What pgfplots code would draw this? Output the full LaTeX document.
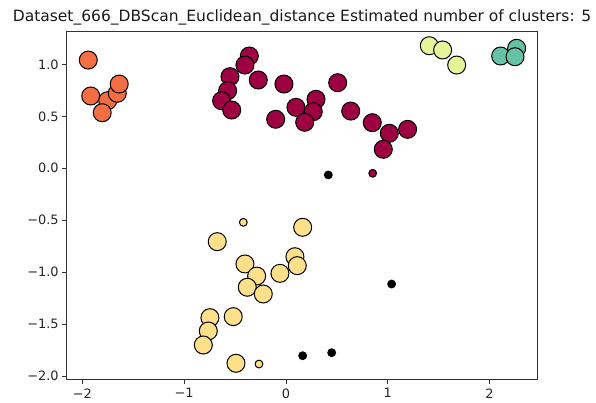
\documentclass[border=0pt]{standalone}
\usepackage{pgfplots}
\pgfplotsset{compat=1.18}
\usepackage{fontspec}
\setmainfont{DejaVu Sans}
\definecolor{c0}{HTML}{9E0142}
\definecolor{c1}{HTML}{F46D43}
\definecolor{c2}{HTML}{FEE08B}
\definecolor{c3}{HTML}{E6F598}
\definecolor{c4}{HTML}{66C2A5}
\begin{document}
\begin{tikzpicture}
\begin{axis}[
  scale only axis,
  width=470.6bp, height=347.8bp,
  xmin=-2.154, xmax=2.469, ymin=-2.033, ymax=1.315,
  axis line style={black!80, line width=0.8bp},
  xtick={-2,-1,0,1,2},
  xticklabels={−2,−1,0,1,2},
  ytick={-2,-1.5,-1,-0.5,0,0.5,1},
  yticklabels={−2.0,−1.5,−1.0,−0.5,0.0,0.5,1.0},
  tick align=outside,
  xtick pos=bottom, ytick pos=left,
  major tick length=4.5bp,
  tick style={black!80, line width=0.8bp},
  tick label style={font=\fontsize{12.9bp}{15bp}\selectfont, text=black!85},
  xticklabel style={yshift=-1bp},
  clip=false,
  every axis plot/.append style={only marks, line width=1bp},
]
% cluster 0 core
\addplot[mark=*, mark size=9bp, mark options={fill=c0, draw=black}] coordinates {
(-0.360,1.081) (-0.403,0.994) (-0.272,0.850) (-0.550,0.882) (-0.573,0.747)
(-0.632,0.651) (-0.533,0.561) (-0.020,0.811) (0.508,0.824) (-0.101,0.472)
(0.098,0.587) (0.295,0.664) (0.268,0.545) (0.184,0.443) (0.636,0.551)
(0.848,0.439) (1.015,0.337) (1.195,0.375) (0.956,0.183)
};
\addplot[mark=*, mark size=3.9bp, mark options={fill=c0, draw=black}] coordinates {
(0.852,-0.048)
};
% cluster 1 core
\addplot[mark=*, mark size=9bp, mark options={fill=c1, draw=black}] coordinates {
(-1.942,1.042) (-1.918,0.696) (-1.751,0.651) (-1.657,0.722) (-1.638,0.811) (-1.805,0.535)
};
% cluster 2 core
\addplot[mark=*, mark size=9bp, mark options={fill=c2, draw=black}] coordinates {
(0.164,-0.568) (-0.675,-0.706) (0.088,-0.851) (0.111,-0.937) (-0.403,-0.921)
(-0.059,-1.011) (-0.288,-1.037) (-0.380,-1.145) (-0.223,-1.210) (-0.747,-1.438)
(-0.518,-1.428) (-0.763,-1.566) (-0.812,-1.701) (-0.491,-1.877)
};
\addplot[mark=*, mark size=3.9bp, mark options={fill=c2, draw=black}] coordinates {
(-0.419,-0.520) (-0.265,-1.884)
};
% cluster 3 core
\addplot[mark=*, mark size=9bp, mark options={fill=c3, draw=black}] coordinates {
(1.408,1.180) (1.539,1.139) (1.677,0.994)
};
% cluster 4 core
\addplot[mark=*, mark size=9bp, mark options={fill=c4, draw=black}] coordinates {
(2.266,1.155) (2.109,1.081) (2.250,1.074)
};
% noise
\addplot[mark=*, mark size=3.9bp, mark options={fill=black, draw=black}] coordinates {
(0.416,-0.064) (1.038,-1.114) (0.164,-1.804) (0.449,-1.775)
};
\end{axis}
\node[anchor=base, font=\fontsize{15.5bp}{18bp}\selectfont, text=black!90] at (235.3bp,357.5bp)
  {Dataset\_666\_DBScan\_Euclidean\_distance Estimated number of clusters: 5};
\pgfresetboundingbox
\path[use as bounding box] (-66.7bp,-23.5bp) rectangle (529.3bp,379.5bp);
\end{tikzpicture}
\end{document}
